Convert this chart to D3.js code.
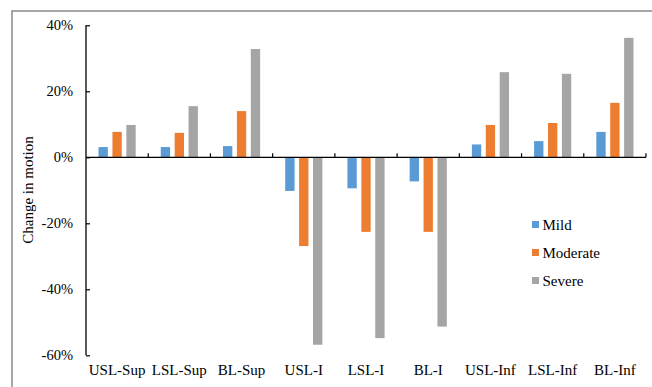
<!DOCTYPE html>
<html>
<head>
<meta charset="utf-8">
<script src="https://cdn.jsdelivr.net/npm/d3@7"></script>
<style>
  body { margin: 0; background: #fff; }
  svg text { font-family: "Liberation Serif", "Times New Roman", serif !important; fill: #000; }
</style>
</head>
<body>
<div id="chart"></div>
<script>
// data (change in motion, %)
const categories = ["USL-Sup", "LSL-Sup", "BL-Sup", "USL-I", "LSL-I", "BL-I", "USL-Inf", "LSL-Inf", "BL-Inf"];
const series = ["Mild", "Moderate", "Severe"];
const mild     = [3.1, 3.1, 3.4, -10.2, -9.4, -7.3, 3.9, 4.9, 7.7];
const moderate = [7.7, 7.4, 14.0, -26.9, -22.6, -22.6, 9.8, 10.4, 16.5];
const severe   = [9.8, 15.5, 32.8, -56.8, -54.8, -51.3, 25.8, 25.3, 36.2];
const yTicks = [-60, -40, -20, 0, 20, 40];
const colors = ["#5B9BD5", "#ED7D31", "#A5A5A5"];

const values = [mild, moderate, severe];
const serif = "'Liberation Serif', 'Times New Roman', serif";

const width = 652, height = 387;

const svg = d3.select("#chart")
    .append("svg")
    .attr("width", width)
    .attr("height", height)
    .attr("font-family", serif);

// outer frame
svg.append("rect")
    .attr("x", 12)
    .attr("y", 11)
    .attr("width", 700)
    .attr("height", 500)
    .attr("fill", "none")
    .attr("stroke", "#8a8a8a")
    .attr("stroke-width", 1.5);

// scales
const xScale = d3.scaleBand()
    .domain(categories)
    .range([86, 646]);

const yScale = d3.scaleLinear()
    .domain([-60, 40])
    .range([355.3, 25.3]);

const bw = xScale.bandwidth();
const barW = bw * 0.15;
const step = bw * 0.2235;

// bars
series.forEach((s, i) => {
    svg.append("g")
        .selectAll("rect")
        .data(values[i])
        .join("rect")
            .attr("x", (d, j) => xScale(categories[j]) + bw / 2 + (i - 1) * step - barW / 2)
            .attr("y", d => yScale(Math.max(0, d)))
            .attr("width", barW)
            .attr("height", d => Math.abs(yScale(d) - yScale(0)))
            .attr("fill", colors[i]);
});

// y axis
const yAxis = d3.axisLeft(yScale)
    .tickValues(yTicks)
    .tickSize(-4)
    .tickPadding(13)
    .tickFormat(d => Math.round(d) + "%");

const yG = svg.append("g")
    .attr("transform", "translate(86,0)")
    .call(yAxis)
    .attr("font-family", serif);
yG.select(".domain").attr("d", `M0,${yScale(-60)}V${yScale(40)}`).attr("stroke", "#000").attr("stroke-width", 1.3);
yG.selectAll(".tick line").attr("stroke", "#000").attr("stroke-width", 1.2);
yG.selectAll("text")
    .attr("font-size", "14.5px")
    .style("font-family", serif);

// zero line with category boundary ticks
const zeroY = yScale(0);
svg.append("line")
    .attr("x1", 86).attr("x2", 646)
    .attr("y1", zeroY).attr("y2", zeroY)
    .attr("stroke", "#000")
    .attr("stroke-width", 1.3);

const bounds = categories.map(c => xScale(c) + bw);
svg.append("g")
    .selectAll("line")
    .data(bounds)
    .join("line")
        .attr("x1", d => d).attr("x2", d => d)
        .attr("y1", zeroY).attr("y2", zeroY - 4)
        .attr("stroke", "#000")
        .attr("stroke-width", 1.2);

// category labels along the bottom
svg.append("g")
    .selectAll("text")
    .data(categories)
    .join("text")
        .attr("x", d => xScale(d) + bw / 2)
        .attr("y", 375)
        .attr("text-anchor", "middle")
        .attr("font-size", "15px")
        .style("font-family", serif)
        .text(d => d);

// y axis title
svg.append("text")
    .attr("transform", "translate(33,190) rotate(-90)")
    .attr("text-anchor", "middle")
    .attr("font-size", "15px")
    .style("font-family", serif)
    .text("Change in motion");

// legend
const legend = svg.append("g")
    .selectAll("g")
    .data(series)
    .join("g")
        .attr("transform", (d, i) => `translate(532,${221 + i * 28})`);

legend.append("rect")
    .attr("width", 7)
    .attr("height", 7)
    .attr("fill", (d, i) => colors[i]);

legend.append("text")
    .attr("x", 10.5)
    .attr("y", 9.3)
    .attr("font-size", "15px")
    .style("font-family", serif)
    .text(d => d);
</script>
</body>
</html>
